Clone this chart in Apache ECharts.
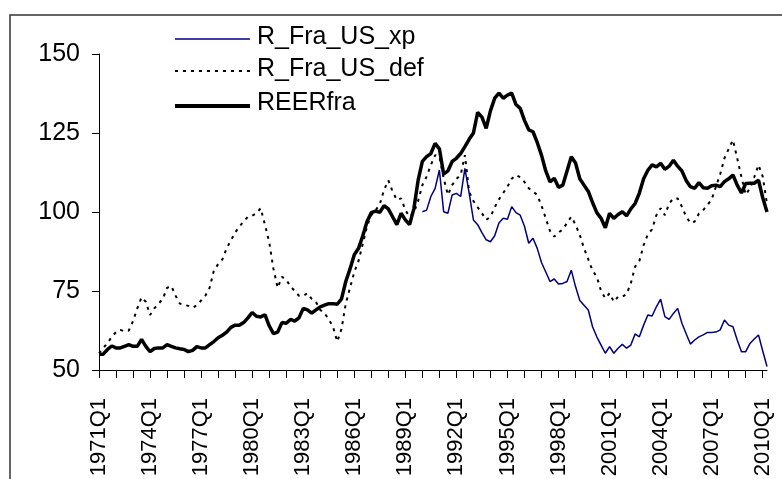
<!DOCTYPE html>
<html>
<head>
<meta charset="utf-8">
<script src="https://cdn.jsdelivr.net/npm/echarts@6/dist/echarts.min.js"></script>
<style>
html,body{margin:0;padding:0;background:#fff;}
#chart{width:782px;height:479px;}
</style>
</head>
<body>
<div id="chart"></div>
<script>
// Quarterly categories 1971Q1 .. 2010Q2
var startYear = 1971, nQuarters = 158;
var categories = [];
for (var k = 0; k < nQuarters; k++) {
  categories.push((startYear + Math.floor(k / 4)) + 'Q' + (k % 4 + 1));
}

var seriesNames = ['R_Fra_US_xp', 'R_Fra_US_def', 'REERfra'];

// REERfra (thick black)
var reerFra = [
55,55,56.5,57.6,57,57,57.5,58,57.5,57.5,
59.7,57.5,55.8,56.8,57,57,58,57.5,57,56.7,
56.5,55.8,56.2,57.4,57,57,58,59,60.2,61,
62,63.5,64.2,64.2,65,66.5,68.2,67,66.8,67.5,
64,61.5,62,65,64.8,66,65.5,66.5,69.5,69,
68,69,70,70.5,71,71,70.8,72.5,78,82,
86.5,88.5,92.5,97,99.8,100.3,99.9,102,101,98.5,
96,99.6,97.5,96,101,110,116,117.5,118.5,121.7,
120,112,113,116,117,118.5,120.7,123,125,131.5,
130,126.5,132,136,137.6,136,137,137.6,134,132.8,
129,126,125.4,122,118,113,109.5,110.7,107.8,108.5,
113,117.5,115.5,110.5,108.5,106.5,103,99.8,98,95,
99.6,98,99.2,100.1,98.8,101,102.7,106,110.5,113.2,
114.9,114.3,115.4,113.5,114.5,116.4,114.5,113,110,108,
107.5,109.3,107.7,107.5,108.3,108.5,108,109.6,110.5,111.7,
108.5,106,109,109.1,109.1,110.1,104.5,100
];

// R_Fra_US_def (dotted)
var rFraUsDef = [
55.3,57,58.5,60.5,62,62.7,62.2,62.5,65.5,69.5,
73,71.6,67.4,69.5,71,72.5,76,76.6,73.5,71,
70.6,70.3,69.7,70.5,72,73.5,76,81.5,83.5,85,
88.5,91,93.5,95.4,97,98.5,98.8,99.6,101.2,96,
90.5,82,76,79.5,78.5,76.5,75,73.5,73.5,74.3,
72.5,71.5,69,68,66,63.7,59,63,71,76,
81,84.5,90,95.5,99,100.5,102.5,107,110,106.5,
103.8,104.3,100.6,98.5,99.8,103.5,108.5,111.2,114.9,118,
117.5,110.7,105.4,108.5,110.5,111.7,118,106.4,103.5,101.5,
99.6,97.5,98.5,101.5,104,106,108,110.5,111.7,111,
109.5,107.5,106.5,105.4,102,98,94,92.2,93.5,94.5,
96.5,98.5,96,92.7,88.5,85,81.5,79.5,75,72.7,
74.3,71.6,73.2,73.2,74,77.5,82.7,84.5,89.5,93,
94.5,99,101.2,99,102.7,104.3,104.3,101.7,98.5,96.5,
97,99.5,100.6,102.2,104,108,112,117,120,122.8,
117,111,105.5,107.5,111,114.9,111.2,102.5
];

// R_Fra_US_xp (blue), starts 1990Q1
var rFraUsXpStart = 76;
var rFraUsXpValues = [
100.1,100.6,104.9,107.5,113.3,100.1,99.6,105.4,105.9,104.9,
113.8,106,97.5,96,93.5,91.2,90.6,92.5,96.5,98,
97.7,101.7,99.8,99,95.5,90.1,91.7,88.5,84,81,
78,78.8,77.2,77.4,78,81.6,76.4,72,70.5,69,
63.7,60.5,57.9,55.3,57.4,55.3,56.9,58.1,56.9,57.9,
61.4,60.5,64.2,67.4,67.1,70,72.4,66.9,66,67.9,
69.5,64.8,61.5,58.2,59.5,60.5,61.1,61.9,61.9,62,
62.7,65.8,64.2,63.7,59.5,55.8,55.8,58.4,59.8,61.1,
56,51.1
];

var yTicks = { min: 50, max: 150, interval: 25 };

var rFraUsXp = [];
for (var j = 0; j < rFraUsXpStart; j++) rFraUsXp.push(null);
rFraUsXp = rFraUsXp.concat(rFraUsXpValues);

var FONT = "'Liberation Sans', Arial, sans-serif";

var legendStyles = [
  { stroke: '#000080', lineWidth: 1.5, lineDash: null, lineY: 39, textY: 37 },
  { stroke: '#000', lineWidth: 2, lineDash: [3, 5], lineY: 71, textY: 69 },
  { stroke: '#000', lineWidth: 4, lineDash: null, lineY: 106, textY: 103.5 }
];
var graphics = [{
  type: 'rect',
  shape: { x: 10, y: 15, width: 820, height: 520 },
  style: { fill: 'none', stroke: '#333', lineWidth: 1.5 },
  silent: true, z: -1
}];
legendStyles.forEach(function (ls, idx) {
  graphics.push({
    type: 'line',
    shape: { x1: 175, y1: ls.lineY, x2: 250, y2: ls.lineY },
    style: { stroke: ls.stroke, lineWidth: ls.lineWidth, lineDash: ls.lineDash },
    silent: true
  });
  graphics.push({
    type: 'text',
    x: 257, y: ls.textY,
    style: { text: seriesNames[idx], font: '25px ' + FONT, fill: '#000', textVerticalAlign: 'middle', verticalAlign: 'middle' },
    silent: true
  });
});

var chart = echarts.init(document.getElementById('chart'), null, {renderer: 'canvas'});
chart.setOption({
  animation: false,
  backgroundColor: '#ffffff',
  graphic: graphics,
  grid: { left: 99, right: 15, top: 54, bottom: 109, containLabel: false, outerBoundsMode: 'none' },
  xAxis: {
    type: 'category',
    data: categories,
    boundaryGap: false,
    axisLine: { lineStyle: { color: '#000', width: 1 } },
    axisTick: { show: true, interval: 3, length: 8, inside: false, lineStyle: { color: '#000' } },
    axisLabel: {
      interval: 11, rotate: 90, margin: 28,
      fontFamily: FONT, fontSize: 22, color: '#000'
    },
    splitLine: { show: false }
  },
  yAxis: {
    type: 'value',
    min: yTicks.min, max: yTicks.max, interval: yTicks.interval,
    axisLine: { show: true, lineStyle: { color: '#000', width: 1 } },
    axisTick: { show: true, length: 7, lineStyle: { color: '#000' } },
    axisLabel: { margin: 19, fontFamily: FONT, fontSize: 25, color: '#000' },
    splitLine: { show: false }
  },
  series: [
    {
      name: seriesNames[0], type: 'line', data: rFraUsXp,
      symbol: 'none', connectNulls: false,
      lineStyle: { color: '#000080', width: 1.5 },
      itemStyle: { color: '#000080' }, z: 3
    },
    {
      name: seriesNames[1], type: 'line', data: rFraUsDef,
      symbol: 'none',
      lineStyle: { color: '#000', width: 2, type: [3, 5] },
      itemStyle: { color: '#000' }, z: 2
    },
    {
      name: seriesNames[2], type: 'line', data: reerFra,
      symbol: 'none',
      lineStyle: { color: '#000', width: 3.5 },
      itemStyle: { color: '#000' }, z: 4
    }
  ]
});
</script>
</body>
</html>
